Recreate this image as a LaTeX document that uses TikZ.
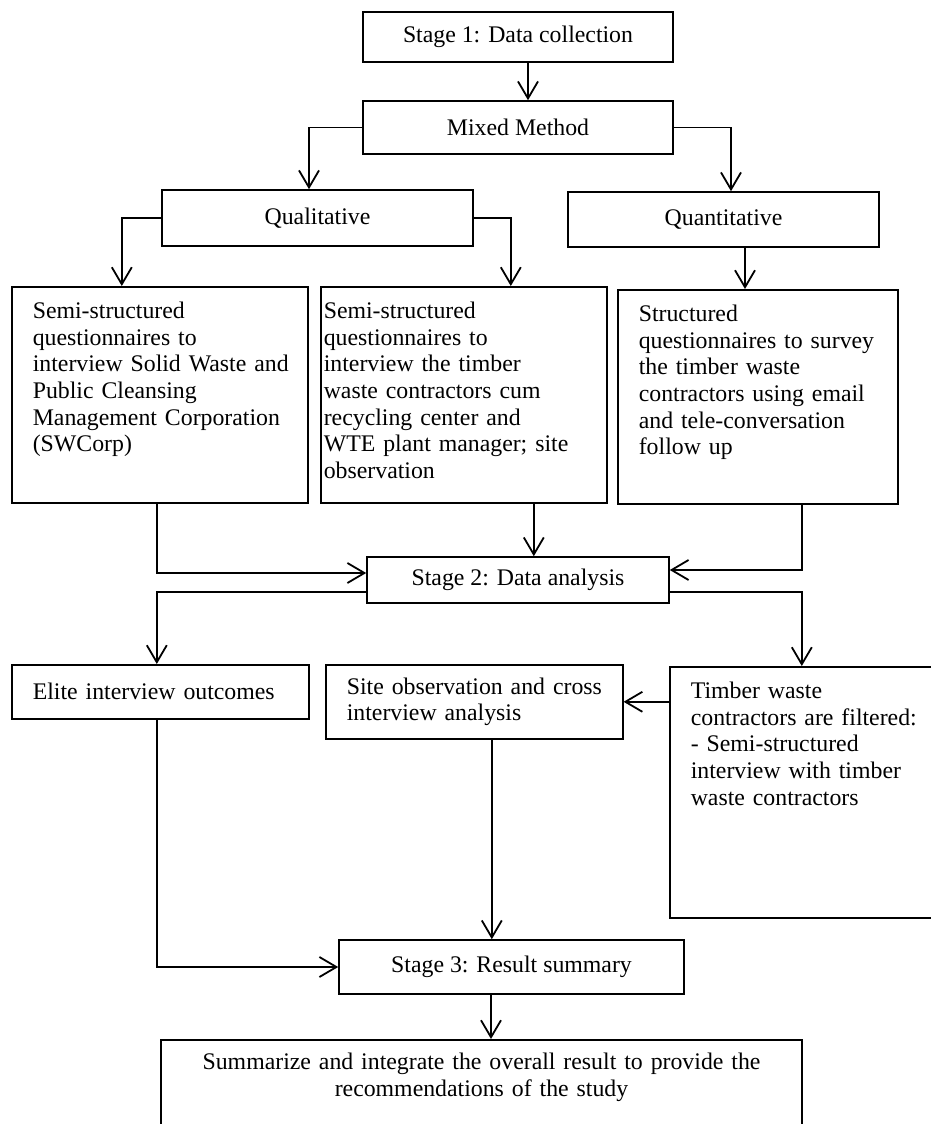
\documentclass[tikz,border=0pt]{standalone}
\usepackage{fontspec}
\setmainfont{Liberation Serif}
\usetikzlibrary{arrows.meta}

\begin{document}
\begin{tikzpicture}[x=1pt, y=-1pt,
        every node/.style={font=\fontsize{23.8}{26.7}\selectfont, line width=1.6pt},
        stagebox/.style={draw, inner sep=0pt, align=center},
        textbox/.style={draw, anchor=north west, align=left, inner xsep=21pt, inner ysep=12pt, text height=19.5pt},
        flatbox/.style={draw, anchor=north west, align=left, inner xsep=21pt, inner ysep=0pt},
        arr/.style={-{Straight Barb[length=17pt, width=20pt]}, line width=1.8pt}]
        \useasboundingbox (0,0) rectangle (930,1124);

        \node[stagebox, minimum width=310pt, minimum height=50pt] (stage1) at (518,37) {Stage 1: Data collection};
        \node[stagebox, minimum width=310pt, minimum height=53pt] (mixed) at (518,127.5) {Mixed Method};

        \node[stagebox, minimum width=311pt, minimum height=56pt] (qual) at (317.5,218) {Qualitative};
        \node[stagebox, minimum width=311pt, minimum height=55pt] (quant) at (723.5,219.5) {Quantitative};

        \node[textbox, text width=254pt, text depth=172.5pt] (swcorp) at (11,286)
            {Semi-structured\\ questionnaires~to\\ \mbox{interview Solid Waste and}\\ Public~Cleansing\\ \mbox{Management Corporation}\\ (SWCorp)};
        \node[textbox, inner xsep=3pt, text width=280pt, text depth=172.5pt] (contr) at (320,286)
            {Semi-structured\\ questionnaires~to\\ interview~the~timber\\ \mbox{waste contractors cum}\\ recycling~center~and\\ \mbox{WTE plant manager; site}\\ observation};
        \node[textbox, text width=238pt, text depth=170.5pt] (survey) at (617,289)
            {Structured\\ \mbox{questionnaires to survey}\\ the~timber~waste\\ \mbox{contractors using email}\\ \mbox{and tele-conversation}\\ follow~up};

        \node[stagebox, minimum width=302pt, minimum height=46pt] (stage2) at (518,580) {Stage 2: Data analysis};

        \node[flatbox, text width=255pt, minimum height=54pt] (elite) at (11,664) {Elite interview outcomes};
        \node[flatbox, text width=255pt, minimum height=74pt] (site) at (325,664)
            {\mbox{Site observation and cross}\\ interview~analysis};
        \node[textbox, text width=234pt, text depth=207.5pt] (filter) at (669,666)
            {Timber~waste\\ \mbox{contractors are filtered:}\\ -~Semi-structured\\ \mbox{interview with timber}\\ \mbox{waste contractors}};

        \node[stagebox, minimum width=345pt, minimum height=54pt] (stage3) at (511.5,967) {Stage 3: Result summary};
        \node[draw, anchor=north, align=center, text width=620pt, inner xsep=10.5pt, inner ysep=10pt,
            text height=19.5pt, text depth=120pt] (summary) at (481.5,1039)
            {Summarize and integrate the overall result to provide the\\ recommendations of the study};

        \draw[arr] ([xshift=10pt]stage1.south) -- ([xshift=10pt]mixed.north);
        \draw[arr] (mixed.west) -| ([xshift=-8.5pt]qual.north);
        \draw[arr] (mixed.east) -| ([xshift=7.5pt]quant.north);

        \draw[arr] (qual.west) -| ([xshift=-38pt]swcorp.north);
        \draw[arr] (qual.east) -| ([xshift=47pt]contr.north);
        \draw[arr] ([xshift=21.5pt]quant.south) -- ([xshift=21.5pt]quant.south |- survey.north);

        \draw[arr] ([xshift=-3pt]swcorp.south) |- ([yshift=7pt]stage2.west);
        \draw[arr] ([xshift=70pt]contr.south) -- ([xshift=70pt]contr.south |- stage2.north);
        \draw[arr] ([xshift=44pt]survey.south) |- ([yshift=10pt]stage2.east);

        \draw[arr] ([yshift=-12pt]stage2.west) -| ([xshift=-3.5pt]elite.north);
        \draw[arr] ([yshift=-12pt]stage2.east) -| ([xshift=-6pt]filter.north);
        \draw[arr] (site.east -| filter.west) -- (site.east);

        \draw[arr] ([xshift=-3.5pt]elite.south) |- (stage3.west);
        \draw[arr] ([xshift=17.5pt]site.south) -- ([xshift=17.5pt]site.south |- stage3.north);
        \draw[arr] ([xshift=-20.5pt]stage3.south) -- ([xshift=-20.5pt]stage3.south |- summary.north);
\end{tikzpicture}
\end{document}
